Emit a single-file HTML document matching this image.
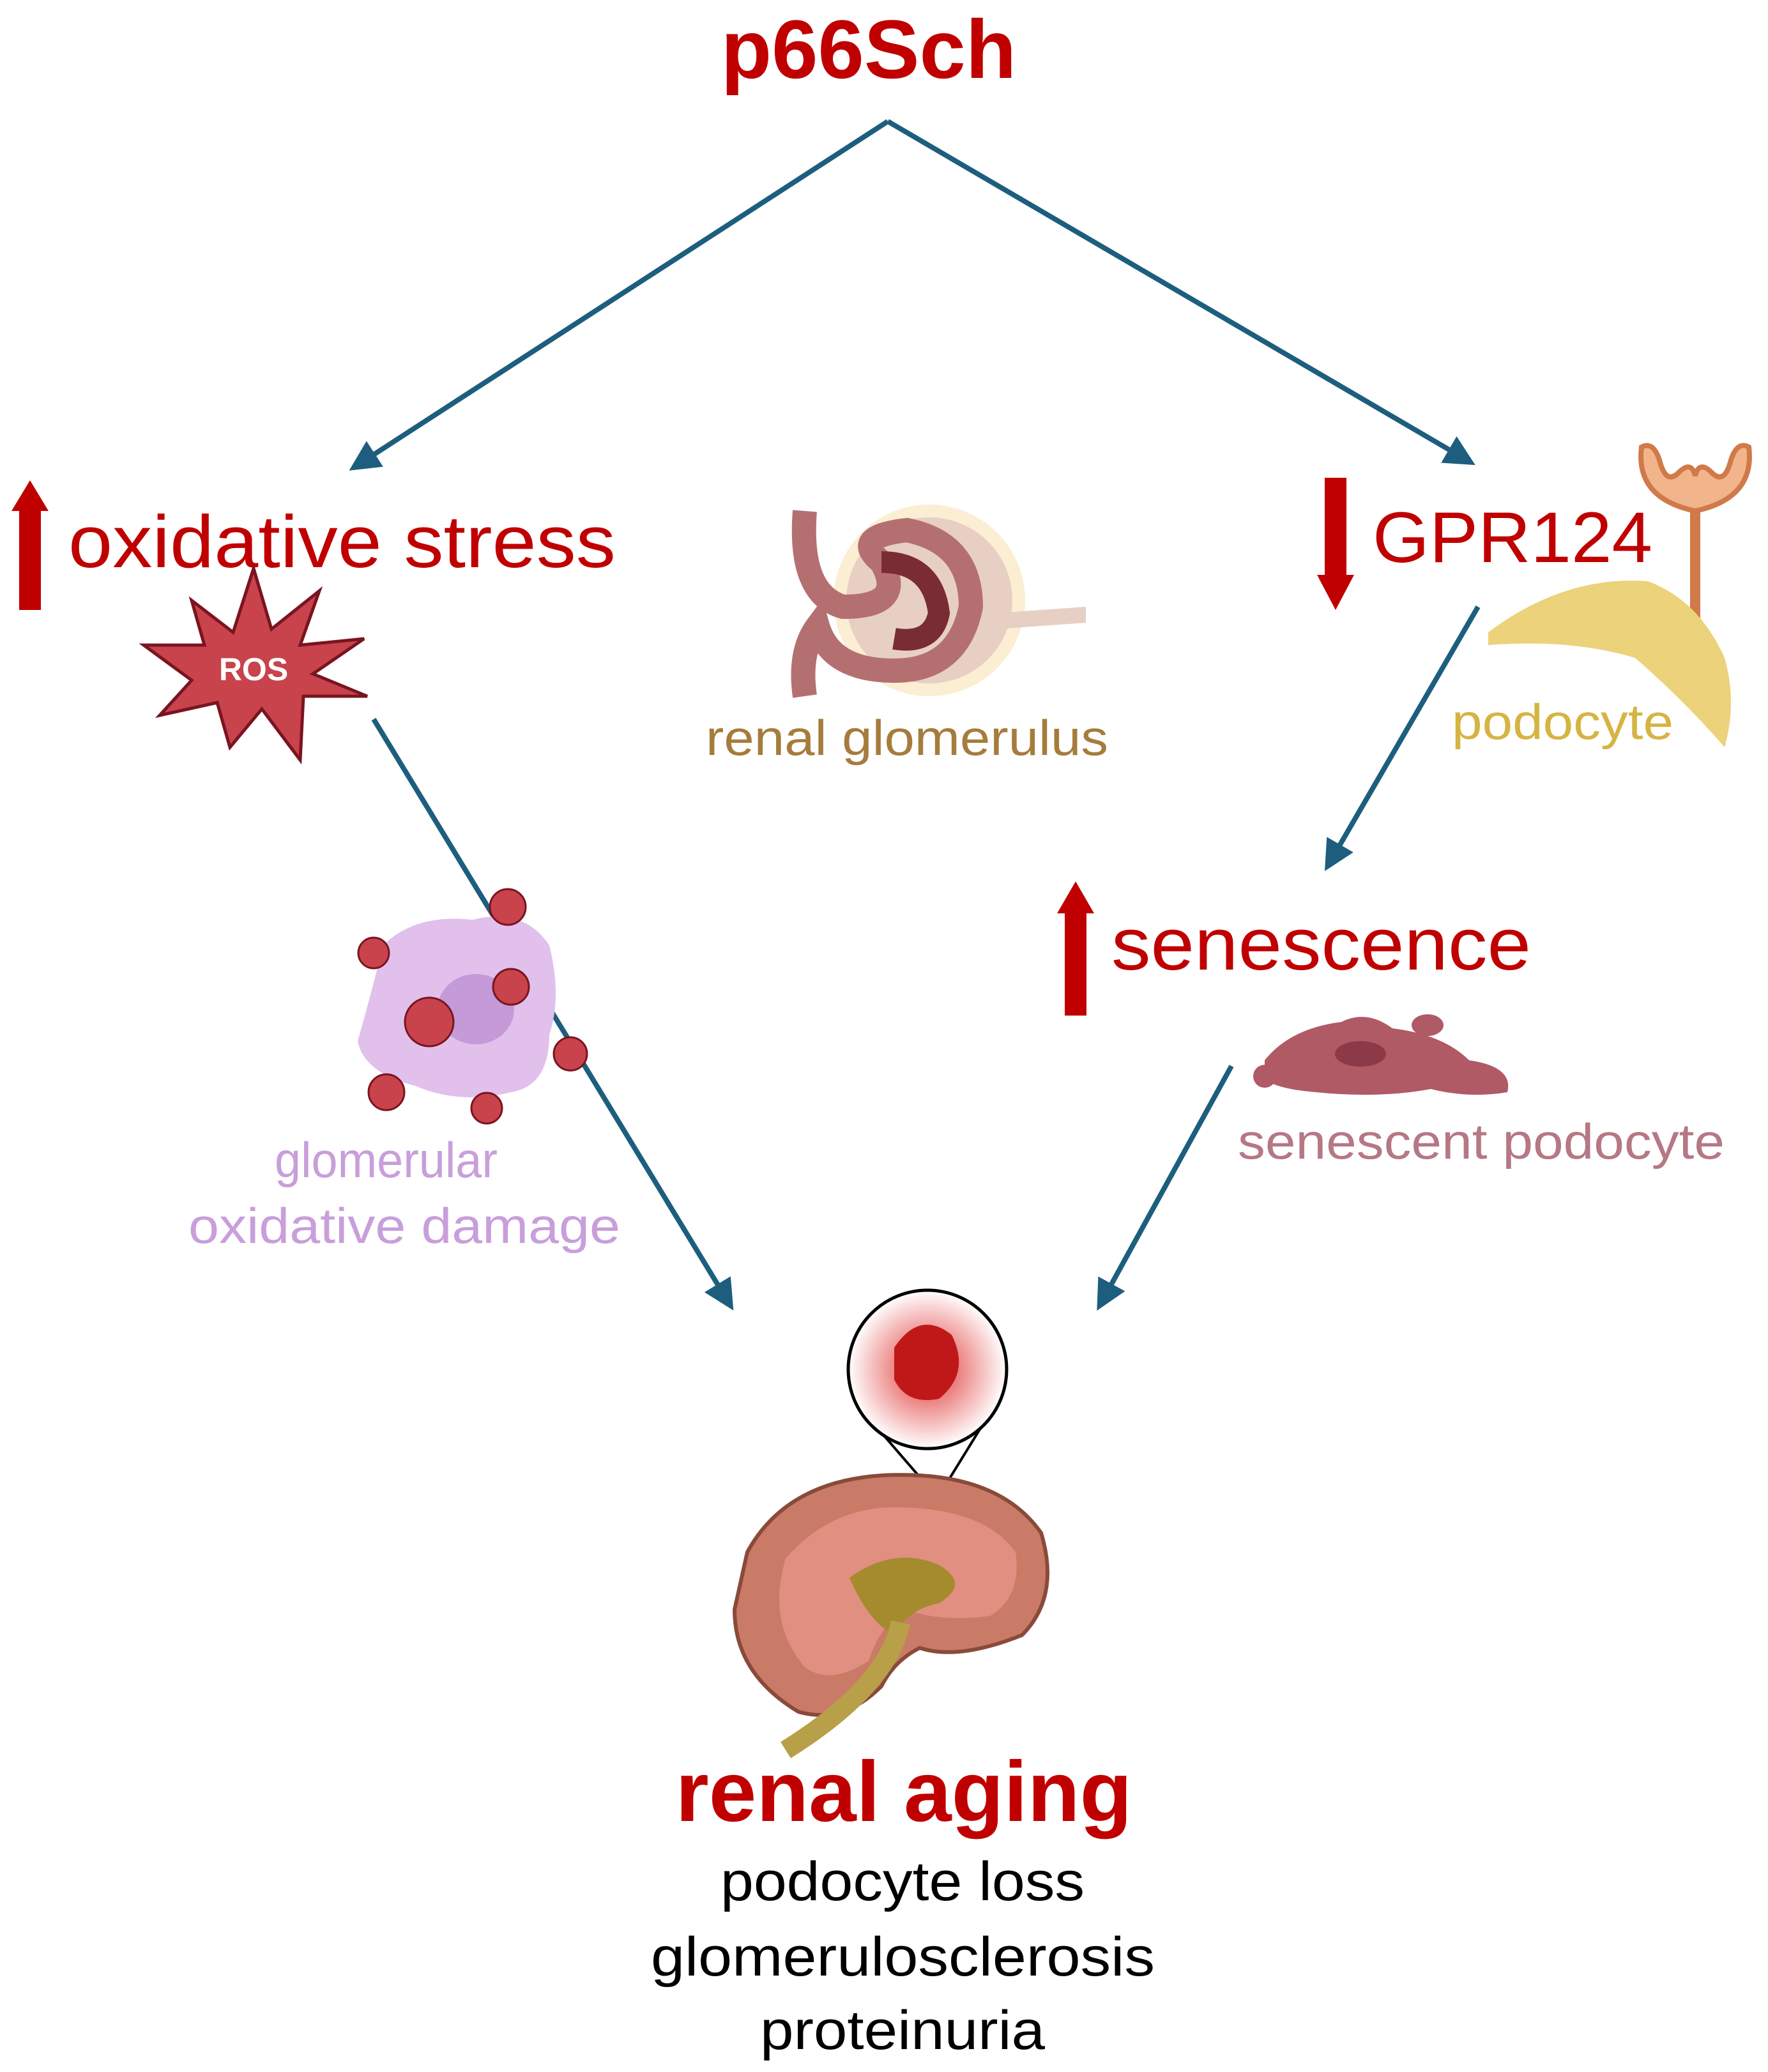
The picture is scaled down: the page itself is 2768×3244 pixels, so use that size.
<!DOCTYPE html>
<html><head><meta charset="utf-8">
<style>
html,body{margin:0;padding:0;background:#fff;}
svg{display:block;}
text{font-family:"Liberation Sans",sans-serif;}
</style></head>
<body>
<svg width="2768" height="3244" viewBox="0 0 2768 3244" xmlns="http://www.w3.org/2000/svg">
<defs>
<marker id="ah" markerWidth="6" markerHeight="6" refX="4" refY="3" orient="auto" markerUnits="strokeWidth">
<path d="M0,0 L6,3 L0,6 Z" fill="#1d5e7e"/>
</marker>
<radialGradient id="rg" cx="50%" cy="50%" r="50%">
<stop offset="0" stop-color="#e03030"/><stop offset="1" stop-color="#ffffff"/>
</radialGradient>
</defs>
<rect width="2768" height="3244" fill="#fff"/>

<text x="1360" y="122" font-size="130" font-weight="bold" fill="#c00000" text-anchor="middle">p66Sch</text>

<g stroke="#1d5e7e" stroke-width="8" fill="none" marker-end="url(#ah)">
<line x1="1390" y1="190" x2="560" y2="728"/>
<line x1="1390" y1="190" x2="2296" y2="720"/>
<line x1="585" y1="1126" x2="1140" y2="2038"/>
<line x1="2314" y1="950" x2="2082" y2="1350"/>
<line x1="1928" y1="1669" x2="1725" y2="2038"/>
</g>

<path d="M30,955 L30,800 L18,800 L47,752 L76,800 L64,800 L64,955 Z" fill="#c00000"/>
<text x="107" y="888" font-size="116" fill="#c00000" textLength="857" lengthAdjust="spacingAndGlyphs">oxidative stress</text>

<polygon fill="#c8434b" stroke="#7a1420" stroke-width="5"
points="397,890 425,985 500,925 470,1010 570,1000 490,1055 575,1090 475,1090 470,1190 410,1110 360,1170 340,1100 250,1120 300,1065 225,1010 320,1010 300,940 365,990"/>
<text x="397" y="1065" font-size="50" font-weight="bold" fill="#fff" text-anchor="middle">ROS</text>

<ellipse cx="1455" cy="940" rx="150" ry="150" fill="#fbeed3"/>
<ellipse cx="1455" cy="940" rx="130" ry="130" fill="#e7cfc4"/>
<path d="M1560,960 L1700,950 L1700,975 L1560,985 Z" fill="#e7cfc4"/>
<path d="M1260,800 Q1250,930 1320,950 Q1420,950 1380,880 Q1330,840 1420,830 Q1520,850 1520,950 Q1500,1050 1400,1050 Q1300,1050 1280,980 Q1250,1020 1260,1090"
 fill="none" stroke="#b47070" stroke-width="38"/>
<path d="M1380,880 Q1460,880 1470,960 Q1460,1010 1400,1000" fill="none" stroke="#7a2c34" stroke-width="34"/>
<text x="1105" y="1182" font-size="78" fill="#a67c3c" textLength="630" lengthAdjust="spacingAndGlyphs">renal glomerulus</text>

<path d="M2074,748 L2074,900 L2062,900 L2091,955 L2120,900 L2108,900 L2108,748 Z" fill="#c00000"/>
<text x="2149" y="880" font-size="112" fill="#c00000" textLength="438" lengthAdjust="spacingAndGlyphs">GPR124</text>

<rect x="2646" y="790" width="16" height="210" fill="#d07a4a"/>
<path d="M2570,700 Q2560,780 2654,800 Q2748,780 2738,700 Q2720,690 2710,720 Q2700,760 2680,740 Q2660,720 2654,745 Q2648,720 2628,740 Q2608,760 2598,720 Q2588,690 2570,700 Z" fill="#f2b48a" stroke="#d07a4a" stroke-width="8"/>

<path d="M2330,990 Q2450,900 2580,910 Q2660,940 2700,1030 Q2720,1100 2700,1170 Q2640,1100 2560,1030 Q2460,1000 2330,1010 Z" fill="#ecd27a"/>
<text x="2273" y="1157" font-size="78" fill="#d6b443" textLength="347" lengthAdjust="spacingAndGlyphs">podocyte</text>

<path d="M1667,1590 L1667,1430 L1655,1430 L1684,1380 L1713,1430 L1701,1430 L1701,1590 Z" fill="#c00000"/>
<text x="1740" y="1518" font-size="116" fill="#c00000" textLength="657" lengthAdjust="spacingAndGlyphs">senescence</text>

<path d="M1980,1660 Q2020,1610 2100,1600 Q2140,1580 2180,1610 Q2260,1620 2300,1660 Q2370,1670 2360,1710 Q2300,1720 2240,1705 Q2160,1720 2060,1710 Q2000,1705 1980,1690 Z" fill="#b05a66"/>
<circle cx="1980" cy="1685" r="18" fill="#b05a66"/>
<ellipse cx="2235" cy="1605" rx="25" ry="17" fill="#b05a66"/>
<ellipse cx="2130" cy="1650" rx="40" ry="20" fill="#8c3a48"/>
<text x="1938" y="1814" font-size="78" fill="#b57884" textLength="762" lengthAdjust="spacingAndGlyphs">senescent podocyte</text>

<path d="M600,1480 Q650,1430 740,1440 Q820,1420 860,1480 Q880,1560 860,1620 Q860,1700 800,1710 Q720,1730 650,1700 Q570,1680 560,1630 Q580,1560 600,1480 Z" fill="#e1c0ec"/>
<ellipse cx="745" cy="1580" rx="60" ry="55" fill="#c49ad8"/>
<g fill="#c8434b" stroke="#7a1420" stroke-width="3">
<circle cx="672" cy="1600" r="38"/>
<circle cx="795" cy="1420" r="28"/>
<circle cx="800" cy="1545" r="28"/>
<circle cx="585" cy="1492" r="24"/>
<circle cx="893" cy="1650" r="26"/>
<circle cx="605" cy="1710" r="28"/>
<circle cx="762" cy="1735" r="24"/>
</g>
<text x="430" y="1843" font-size="78" fill="#c89edb" textLength="349" lengthAdjust="spacingAndGlyphs">glomerular</text>
<text x="295" y="1946" font-size="78" fill="#c89edb" textLength="676" lengthAdjust="spacingAndGlyphs">oxidative damage</text>

<line x1="1360" y1="2220" x2="1468" y2="2345" stroke="#000" stroke-width="4"/>
<line x1="1545" y1="2220" x2="1468" y2="2345" stroke="#000" stroke-width="4"/>
<circle cx="1452" cy="2144" r="124" fill="url(#rg)" stroke="#000" stroke-width="5"/>
<path d="M1400,2110 Q1440,2050 1490,2090 Q1520,2150 1470,2190 Q1420,2200 1400,2160 Z" fill="#c01818"/>

<path d="M1170,2430 Q1230,2320 1380,2310 Q1560,2300 1630,2400 Q1660,2500 1600,2560 Q1500,2600 1440,2580 Q1400,2600 1380,2640 Q1320,2700 1250,2680 Q1150,2620 1150,2520 Z" fill="#c97b67" stroke="#8a4a3a" stroke-width="6"/>
<path d="M1230,2440 Q1300,2360 1400,2360 Q1540,2360 1590,2430 Q1600,2500 1550,2530 Q1470,2540 1420,2520 Q1380,2540 1360,2600 Q1300,2640 1260,2610 Q1200,2540 1230,2440 Z" fill="#e08f80"/>
<path d="M1330,2470 Q1400,2420 1470,2450 Q1520,2480 1470,2510 Q1420,2520 1400,2560 Q1360,2540 1330,2470 Z" fill="#a68a2e"/>
<path d="M1410,2540 Q1390,2640 1230,2740" fill="none" stroke="#b8a048" stroke-width="30"/>

<text x="1415" y="2851" font-size="134" font-weight="bold" fill="#c00000" text-anchor="middle">renal aging</text>
<text x="1128" y="2975" font-size="86" fill="#000" textLength="570" lengthAdjust="spacingAndGlyphs">podocyte loss</text>
<text x="1019" y="3093" font-size="86" fill="#000" textLength="789" lengthAdjust="spacingAndGlyphs">glomerulosclerosis</text>
<text x="1190" y="3208" font-size="86" fill="#000" textLength="446" lengthAdjust="spacingAndGlyphs">proteinuria</text>
</svg>
</body></html>
